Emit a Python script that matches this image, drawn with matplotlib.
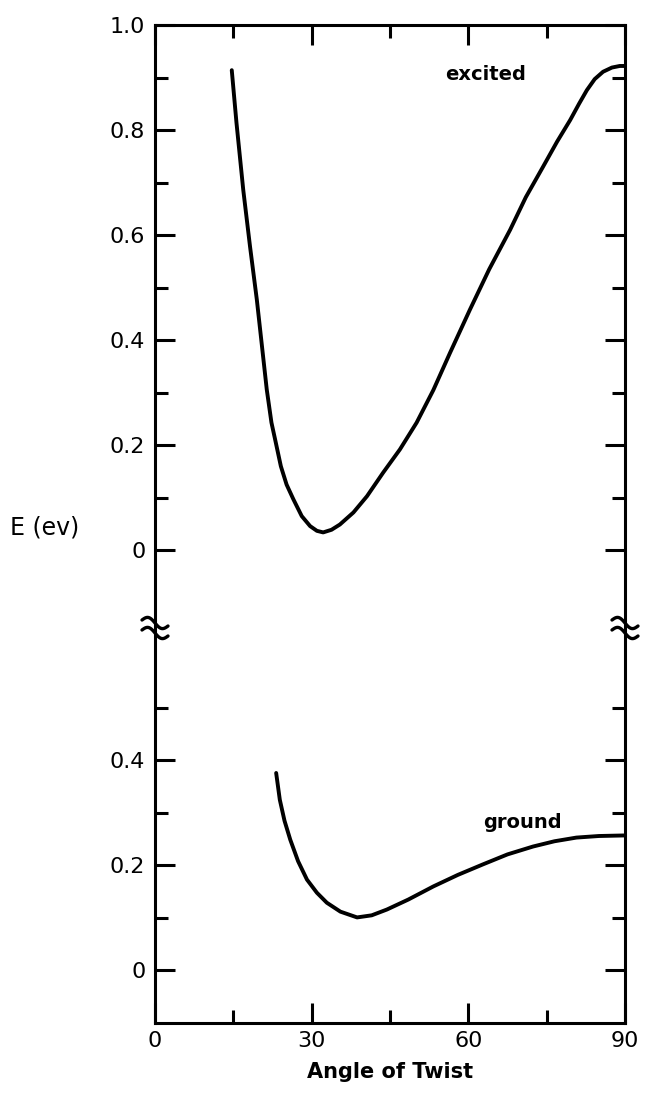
import numpy as np
import matplotlib
matplotlib.use("Agg")
import matplotlib.pyplot as plt

# ---------------------------------------------------------------------------
# Data (angle in degrees, energy in eV)
# ---------------------------------------------------------------------------
excited_angle = [14.7, 15.6, 16.9, 18.2, 19.5, 20.7, 21.4, 22.3, 23.0, 24.1,
                 25.2, 26.5, 28.1, 29.7, 31.0, 32.2, 33.8, 35.4, 38.0, 40.6,
                 43.7, 46.9, 50.1, 53.3, 56.5, 60.3, 64.0, 68.0, 71.0, 74.3,
                 77.0, 79.5, 81.2, 82.7, 84.2, 85.8, 87.5, 89.0, 90.0]
excited_energy = [0.914, 0.814, 0.686, 0.578, 0.477, 0.369, 0.306, 0.243, 0.211,
                  0.160, 0.125, 0.097, 0.065, 0.046, 0.037, 0.034, 0.039, 0.049,
                  0.072, 0.103, 0.148, 0.192, 0.243, 0.305, 0.376, 0.458, 0.535,
                  0.610, 0.672, 0.730, 0.778, 0.819, 0.850, 0.876, 0.897, 0.911,
                  0.919, 0.922, 0.922]

ground_angle = [23.2, 23.9, 24.8, 25.9, 27.4, 29.1, 31.0, 32.9, 35.5, 38.7,
                41.5, 44.4, 48.5, 53.3, 58.0, 62.8, 67.5, 72.4, 76.5, 80.7,
                85.0, 89.6, 90.0]
ground_energy = [0.376, 0.325, 0.285, 0.249, 0.208, 0.173, 0.148, 0.129, 0.112,
                 0.101, 0.105, 0.116, 0.135, 0.160, 0.182, 0.202, 0.221, 0.236,
                 0.246, 0.253, 0.256, 0.257, 0.257]

x_major = [0, 30, 60, 90]
x_minor = [15, 45, 75]

# broken axis: the excited branch is shifted up by this offset
UPPER_OFFSET = 0.8
BREAK_Y = 0.652

upper_major = [0.0, 0.2, 0.4, 0.6, 0.8, 1.0]
upper_labels = ["0", "0.2", "0.4", "0.6", "0.8", "1.0"]
upper_minor = [0.1, 0.3, 0.5, 0.7, 0.9]
lower_major = [0.0, 0.2, 0.4]
lower_labels = ["0", "0.2", "0.4"]
lower_minor = [0.1, 0.3, 0.5]

# ---------------------------------------------------------------------------
W, H = 646, 1093
fig = plt.figure(figsize=(W / 100, H / 100), dpi=100)
ax = fig.add_axes([155 / W, 1 - 1023 / H, 470 / W, 998 / H])

ink = "black"
lw_axis = 2.2

ax.plot(excited_angle, np.array(excited_energy) + UPPER_OFFSET,
        color=ink, lw=2.8, solid_capstyle="round", solid_joinstyle="round")
ax.plot(ground_angle, ground_energy, color=ink, lw=2.8,
        solid_capstyle="round", solid_joinstyle="round")

ax.set_xlim(0, 90)
ax.set_ylim(-0.1, 1.0 + UPPER_OFFSET)

for s in ax.spines.values():
    s.set_linewidth(lw_axis)

ax.set_xticks(x_major)
ax.set_xticks(x_minor, minor=True)
ax.set_xticklabels([str(v) for v in x_major])

ymaj = lower_major + [v + UPPER_OFFSET for v in upper_major]
ylab = lower_labels + upper_labels
ymin = lower_minor + [v + UPPER_OFFSET for v in upper_minor]
ax.set_yticks(ymaj)
ax.set_yticklabels(ylab)
ax.set_yticks(ymin, minor=True)

ax.tick_params(which="both", direction="in", top=True, right=True,
               width=lw_axis, labelsize=16, colors=ink)
ax.tick_params(which="major", length=14.5)
ax.tick_params(which="minor", length=9.5)
ax.tick_params(axis="x", pad=6)
ax.tick_params(axis="y", pad=7)

ax.set_xlabel("Angle of Twist", fontsize=15, fontweight="bold", labelpad=8)
fig.text(10 / W, 1 - 527 / H, "E (ev)", fontsize=17, ha="left", va="center")

ax.text((486 - 155) / 470 * 90, (551 - 75) / 526 + UPPER_OFFSET,
        "excited", fontsize=14, fontweight="bold", ha="center", va="center")
ax.text((522 - 155) / 470 * 90, (971 - 823) / 526,
        "ground", fontsize=14, fontweight="bold", ha="center", va="center")

# break marks on both side spines
px_x = 90 / 470
px_y = 1 / 526
t = np.linspace(0, 1, 40)
for x0 in (0, 90):
    for dy in (5, -5):
        xs = x0 + (-13 + 26 * t) * px_x
        ys = BREAK_Y + (dy + 4 * np.sin(2 * np.pi * t) + 6 * (0.5 - t)) * px_y
        ax.plot(xs, ys, color=ink, lw=2.4, clip_on=False,
                solid_capstyle="round")

fig.savefig("out.png", dpi=100, facecolor="white")
